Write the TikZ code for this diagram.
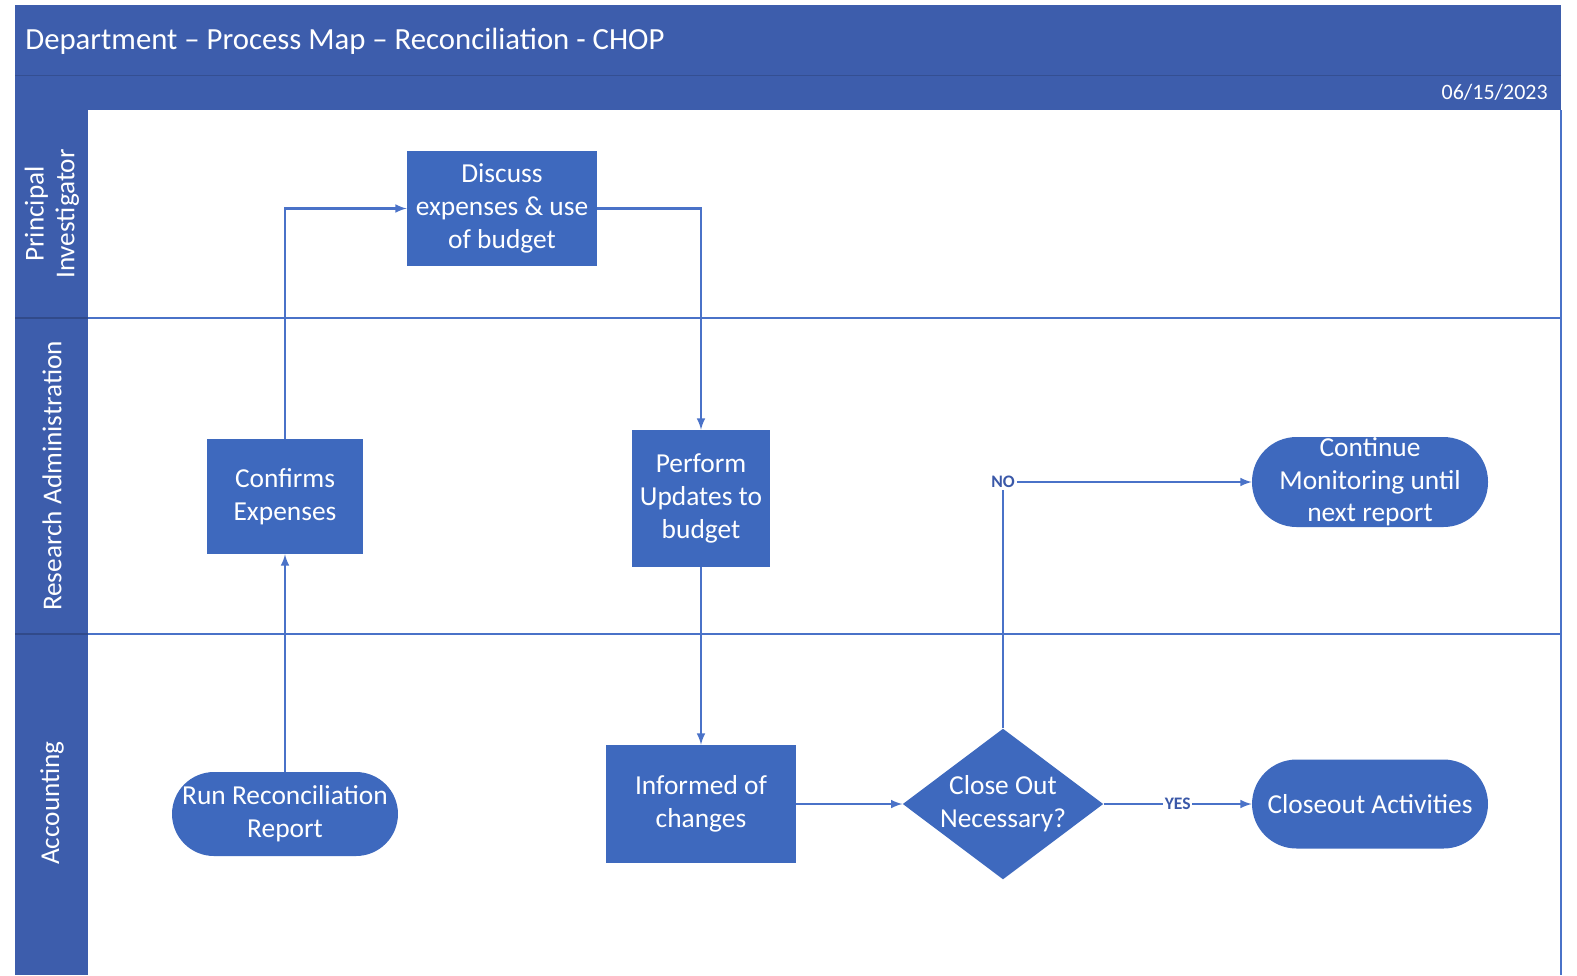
\documentclass[tikz,border=0pt]{standalone}
\usepackage{fontspec}
\setmainfont{Carlito}
\usetikzlibrary{shapes.geometric}
\definecolor{hdrblue}{HTML}{3D5DAC}
\definecolor{boxblue}{HTML}{3E69BE}
\definecolor{lineblue}{HTML}{4A72C8}
\definecolor{tagblue}{HTML}{3A58A8}
\tikzset{
	block/.style={
		rectangle,
		fill=boxblue,
		text=white,
		align=center,
		inner sep=0pt,
		font=\fontsize{15.6}{18.6}\selectfont
	},
	terminal/.style={
		block,
		minimum width=4.72cm,
		rounded corners=.89cm
	},
	decision/.style={
		block,
		diamond,
		aspect=1.33,
		minimum width=3.9cm,
		minimum height=2.94cm
	},
	lanelabel/.style={
		rotate=90,
		text=white,
		align=center,
		font=\fontsize{15.5}{17.5}\selectfont
	},
	conn/.style={
		draw=lineblue,
		line width=1.2pt,
		-latex
	},
	tag/.style={
		fill=white,
		text=tagblue,
		inner sep=1pt,
		font=\fontsize{10}{12}\selectfont\bfseries
	}
}

\begin{document}
\begin{tikzpicture}[x=0.02cm, y=-0.02cm]
	\useasboundingbox[fill=white] (0,0) rectangle (1577,975);
	% frame, header and lane column
	\fill[hdrblue] (15,5) rectangle (1561,110);
	\draw[hdrblue!85!black, line width=.5pt] (15,75) -- (1561,75);
	\fill[hdrblue] (15,110) rectangle (88,975);
	\draw[lineblue, line width=1pt] (1561,110) -- (1561,975);
	\draw[lineblue, line width=1pt] (88,318) -- (1561,318);
	\draw[lineblue, line width=1pt] (88,634) -- (1561,634);
	\draw[hdrblue!80!black, line width=.6pt] (15,318) -- (88,318);
	\draw[hdrblue!80!black, line width=.6pt] (15,634) -- (88,634);
	
	\node[text=white, anchor=west, inner sep=0pt, font=\fontsize{17.5}{20}\selectfont] (title) at (25,41) {Department -- Process Map -- Reconciliation - CHOP};
	\node[text=white, anchor=east, inner sep=0pt, font=\fontsize{12.5}{15}\selectfont] (date) at (1548,92) {06/15/2023};
	
	\node[lanelabel] (pi) at (52,214) {Principal\\ Investigator};
	\node[lanelabel] (ra) at (52,476) {Research Administration};
	\node[lanelabel] (acc) at (52,803) {Accounting};
	
	% steps
	\draw node[block, minimum width=3.8cm, minimum height=2.3cm] (Discuss) at (502,208.5) {Discuss\\ expenses \& use\\ of budget};
	\draw node[block, minimum width=3.12cm, minimum height=2.3cm] (Confirms) at (285,496.5) {Confirms\\ Expenses};
	\draw node[block, minimum width=2.76cm, minimum height=2.74cm] (Perform) at (701,498.5) {Perform\\ Updates to\\ budget};
	\draw node[terminal, minimum height=1.8cm] (Continue) at (1370,482) {Continue\\ Monitoring until\\ next report};
	\draw node[terminal, minimum width=4.52cm, minimum height=1.68cm, rounded corners=.84cm] (Run) at (285,814) {Run Reconciliation\\ Report};
	\draw node[block, minimum width=3.8cm, minimum height=2.36cm] (Informed) at (701,804) {Informed of\\ changes};
	\draw node[decision] (CloseOut) at (1003,804) {Close Out\\ Necessary?};
	\draw node[terminal, minimum height=1.78cm] (Closeout) at (1370,804) {Closeout Activities};
	
	\draw [conn] (Run) -- (Confirms);
	\draw [conn] (Confirms.north) |- (Discuss.west);
	\draw [conn] (Discuss.east) -| (Perform.north);
	\draw [conn] (Perform) -- (Informed);
	\draw [conn] (Informed) -- (CloseOut);
	\draw [conn] (CloseOut) -- node[tag]{YES} (Closeout);
	\draw [conn] (CloseOut.north) |- node[tag]{NO} (Continue.west);
\end{tikzpicture}
\end{document}
